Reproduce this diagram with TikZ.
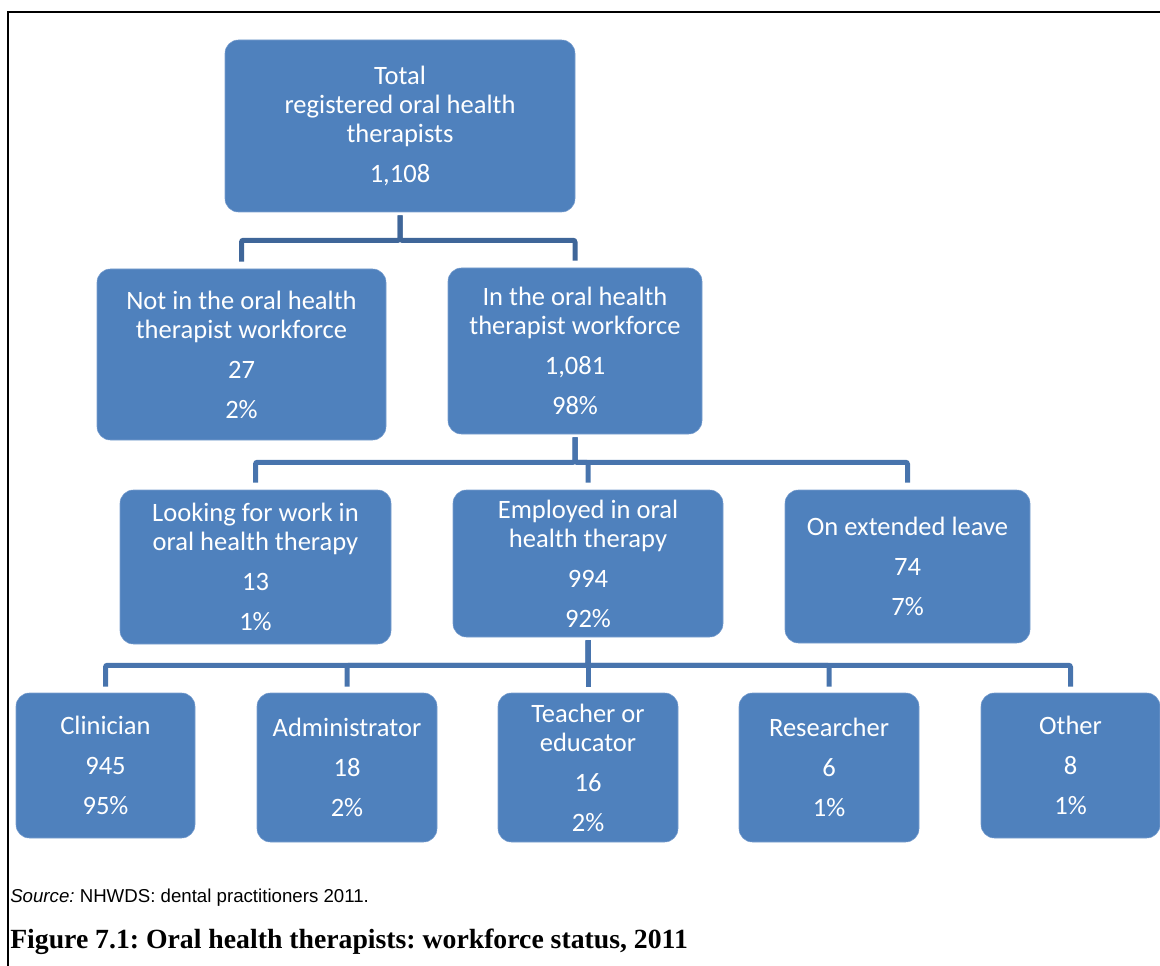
\documentclass[tikz,border=0pt]{standalone}
\usepackage{fontspec}
\setmainfont{Carlito}
\newfontfamily\srcfont{Liberation Sans}
\newfontfamily\capfont{Liberation Serif}
\usetikzlibrary{calc}
\frenchspacing
\definecolor{boxblue}{HTML}{4F81BD}
\definecolor{boxedge}{HTML}{7A9FCF}
\definecolor{lineA}{HTML}{3F6699}
\definecolor{lineB}{HTML}{4874AD}
\tikzset{
  box/.style={rectangle, rounded corners=10pt, fill=boxblue, draw=boxedge, line width=0.4pt,
    text=white, align=center, inner sep=0pt,
    font=\fontsize{19.9pt}{21.75pt}\selectfont},
  conn/.style={line width=3.75pt, rounded corners=1.5pt},
  frameline/.style={line width=1.5pt, black}
}
\newcommand{\gap}{\\[8.25pt]}
\begin{document}
\begin{tikzpicture}[x=0.75pt,y=-0.75pt]
\useasboundingbox (0,0) rectangle (1160,966);
% frame
\coordinate (fTR) at (1160,12);
\coordinate (fTL) at (8,12);
\coordinate (fBL) at (8,966);
\draw[frameline] (fTR) -- (fTL) -- (fBL);

% level 1
\node[box, minimum width=262.5pt, minimum height=129pt] (top) at (400,126)
  {Total\\registered oral health\\therapists\gap 1,108};
% level 2
\node[box, minimum width=216.75pt, minimum height=128.25pt] (notin) at (241.5,354.5)
  {Not in the oral health\\therapist workforce\gap 27\gap 2\%};
\node[box, minimum width=190.5pt, minimum height=124.5pt] (inwf) at (575,351)
  {In the oral health\\therapist workforce\gap 1,081\gap 98\%};
% level 3
\node[box, minimum width=203.25pt, minimum height=115.5pt] (look) at (255.5,567)
  {Looking for work in\\oral health therapy\gap 13\gap 1\%};
\node[box, minimum width=202.5pt, minimum height=110.25pt] (emp) at (588,563.5)
  {Employed in oral\\health therapy\gap 994\gap 92\%};
\node[box, minimum width=183.75pt, minimum height=114.75pt] (leave) at (907.5,566.5)
  {On extended leave\gap 74\gap 7\%};
% level 4
\node[box, minimum width=134.25pt, minimum height=108.75pt] (clin) at (105.5,765.5)
  {Clinician\gap 945\gap 95\%};
\node[box, minimum width=135pt, minimum height=111.75pt] (admin) at (347,767.5)
  {Administrator\gap 18\gap 2\%};
\node[box, minimum width=135pt, minimum height=111.75pt] (teach) at (588,767.5)
  {Teacher or\\educator\gap 16\gap 2\%};
\node[box, minimum width=135pt, minimum height=111.75pt] (res) at (829,767.5)
  {Researcher\gap 6\gap 1\%};
\node[box, minimum width=134.25pt, minimum height=108.75pt] (other) at (1070.5,765.5)
  {Other\gap 8\gap 1\%};

% connectors
\foreach \t in {notin,inwf}
  \draw[conn, lineA] ([yshift=-2.25pt]top.south) -- ++(0,25) -| ([yshift=5.25pt]\t.north);
\foreach \t in {look,emp,leave}
  \draw[conn, lineB] ([yshift=-2.25pt]inwf.south) -- ++(0,25) -| ([yshift=5.25pt]\t.north);
\foreach \t in {clin,admin,teach,res,other}
  \draw[conn, lineB] ([yshift=-2.25pt]emp.south) -- ++(0,25) -| ([yshift=4.5pt]\t.north);

% source and caption
\node[anchor=west, inner sep=0pt, font=\srcfont\fontsize{14pt}{16pt}\selectfont] (src) at (10,898)
  {\textit{Source:} NHWDS: dental practitioners 2011.};
\node[anchor=west, inner sep=0pt, font=\capfont\bfseries\fontsize{20.8pt}{24pt}\selectfont] (cap) at (10,942)
  {Figure 7.1: Oral health therapists: workforce status, 2011};
\end{tikzpicture}
\end{document}
